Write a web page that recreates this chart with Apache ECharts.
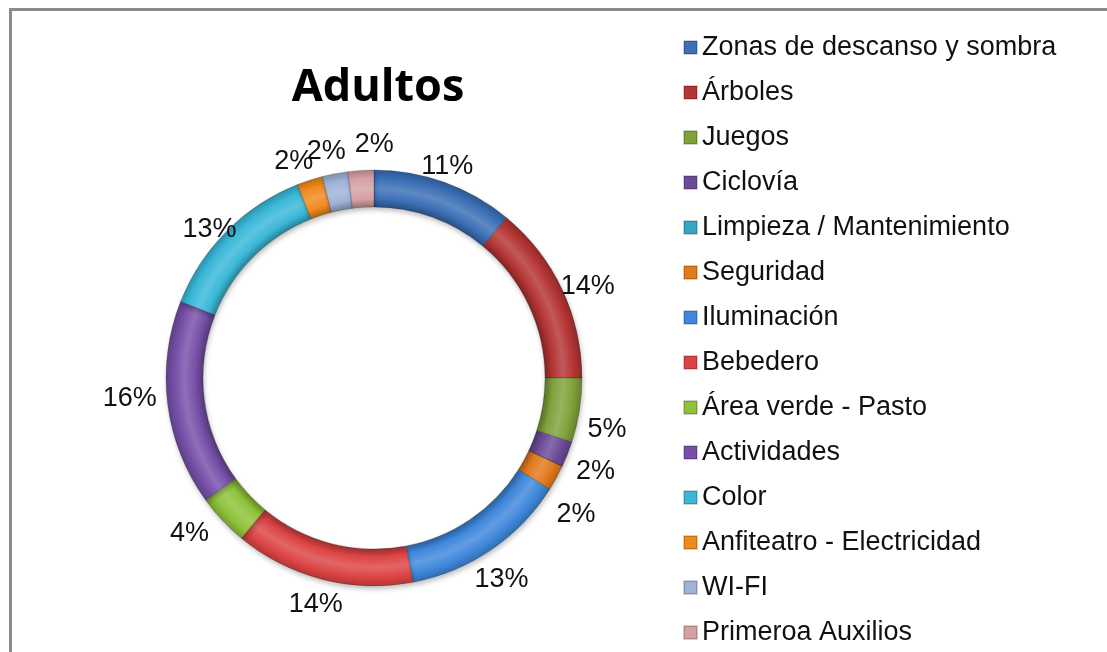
<!DOCTYPE html>
<html>
<head>
<meta charset="utf-8">
<script src="https://cdn.jsdelivr.net/npm/echarts@6/dist/echarts.min.js"></script>
<style>
  html, body { margin: 0; padding: 0; background: #fff; }
  #main { width: 1107px; height: 652px; position: relative; }
  #frame {
    position: absolute; left: 9px; top: 8px; width: 1200px; height: 800px;
    border-left: 3px solid #8a8a8a; border-top: 3px solid #8a8a8a;
    pointer-events: none;
  }
</style>
</head>
<body>
<div id="main"></div>
<div id="frame"></div>
<script>
var categories = [
  'Zonas de descanso y sombra', 'Árboles', 'Juegos', 'Ciclovía',
  'Limpieza / Mantenimiento', 'Seguridad', 'Iluminación', 'Bebedero',
  'Área verde - Pasto', 'Actividades', 'Color', 'Anfiteatro - Electricidad',
  'WI-FI', 'Primeroa Auxilios'
];
var values = [11, 14, 5, 2, 0, 2, 13, 14, 4, 16, 13, 2, 2, 2];
var colors = [
  '#3b6fb6', '#b53535', '#7fa23b', '#6b4b98', '#35a5c5', '#e27a1c',
  '#3f88db', '#dc4444', '#8fc23b', '#7650a8', '#3ab8d8', '#f08a1e',
  '#9fb3d8', '#d6a0a2'
];

var cx = 374, cy = 378, rIn = 171, rOut = 208;

// small nudges for the crowded / best-fit labels, like Excel does
var labelNudge = {
  'Zonas de descanso y sombra': [-6, 9],
  'Árboles': [2, 8],
  'Juegos': [2, 15],
  'Ciclovía': [4, 7],
  'Seguridad': [-3, 24],
  'Iluminación': [-4, 8],
  'Área verde - Pasto': [-14, -5],
  'Actividades': [-12, -9],
  'Color': [1, 17],
  'Anfiteatro - Electricidad': [-8, 6],
  'WI-FI': [-4, 3],
  'Primeroa Auxilios': [15, 0]
};

function shade(hex, f) {
  var n = parseInt(hex.slice(1), 16);
  var r = (n >> 16) & 255, g = (n >> 8) & 255, b = n & 255;
  function m(c) {
    return Math.round(f < 0 ? c * (1 + f) : c + (255 - c) * f);
  }
  return 'rgb(' + m(r) + ',' + m(g) + ',' + m(b) + ')';
}

function ringColor(c) {
  return {
    type: 'radial', x: cx, y: cy, r: rOut, global: true,
    colorStops: [
      { offset: 0, color: shade(c, -0.3) },
      { offset: rIn / rOut, color: shade(c, -0.3) },
      { offset: 0.86, color: c },
      { offset: 0.91, color: shade(c, 0.18) },
      { offset: 0.96, color: c },
      { offset: 1, color: shade(c, -0.2) }
    ]
  };
}

var myChart = echarts.init(document.getElementById('main'), null, {
  width: 1107,
  height: 652
});

var option = {
  animation: false,
  title: {
    text: 'Adultos',
    left: 373,
    top: 61,
    textAlign: 'center',
    textStyle: {
      fontFamily: 'Open Sans',
      fontWeight: 'bold',
      fontSize: 45,
      color: '#000'
    }
  },
  legend: {
    orient: 'vertical',
    left: 683,
    top: 34,
    height: 640,
    padding: 0,
    icon: 'rect',
    itemWidth: 13,
    itemHeight: 13,
    itemGap: 18,
    selectedMode: false,
    textStyle: {
      fontFamily: 'Liberation Sans',
      fontSize: 27,
      lineHeight: 26,
      color: '#111'
    },
    data: categories.map(function (name, i) {
      return { name: name, itemStyle: { color: colors[i] } };
    })
  },
  series: [
    {
      name: 'Adultos',
      type: 'pie',
      center: [cx, cy],
      radius: [rIn, rOut],
      startAngle: 90,
      clockwise: true,
      avoidLabelOverlap: false,
      label: { show: false },
      labelLine: { show: false },
      emphasis: { disabled: true },
      itemStyle: {
        borderColor: 'rgba(0,0,0,0.18)',
        borderWidth: 1,
        shadowBlur: 5,
        shadowOffsetX: 1,
        shadowOffsetY: 3,
        shadowColor: 'rgba(0,0,0,0.25)'
      },
      data: categories.map(function (name, i) {
        return { name: name, value: values[i], itemStyle: { color: ringColor(colors[i]) } };
      })
    },
    {
      name: 'labels',
      type: 'pie',
      center: [cx, cy],
      radius: [rOut, 254],
      startAngle: 90,
      clockwise: true,
      silent: true,
      avoidLabelOverlap: false,
      labelLayout: { hideOverlap: false },
      itemStyle: { color: 'rgba(0,0,0,0)' },
      label: {
        show: true,
        position: 'inside',
        fontFamily: 'Liberation Sans',
        fontSize: 27,
        color: '#111',
        formatter: function (p) {
          return p.value ? Math.round(p.percent) + '%' : '';
        }
      },
      labelLine: { show: false },
      emphasis: { disabled: true },
      data: categories.map(function (name, i) {
        var d = { name: name, value: values[i] };
        if (labelNudge[name]) d.label = { offset: labelNudge[name] };
        return d;
      })
    }
  ]
};

myChart.setOption(option);
</script>
</body>
</html>
